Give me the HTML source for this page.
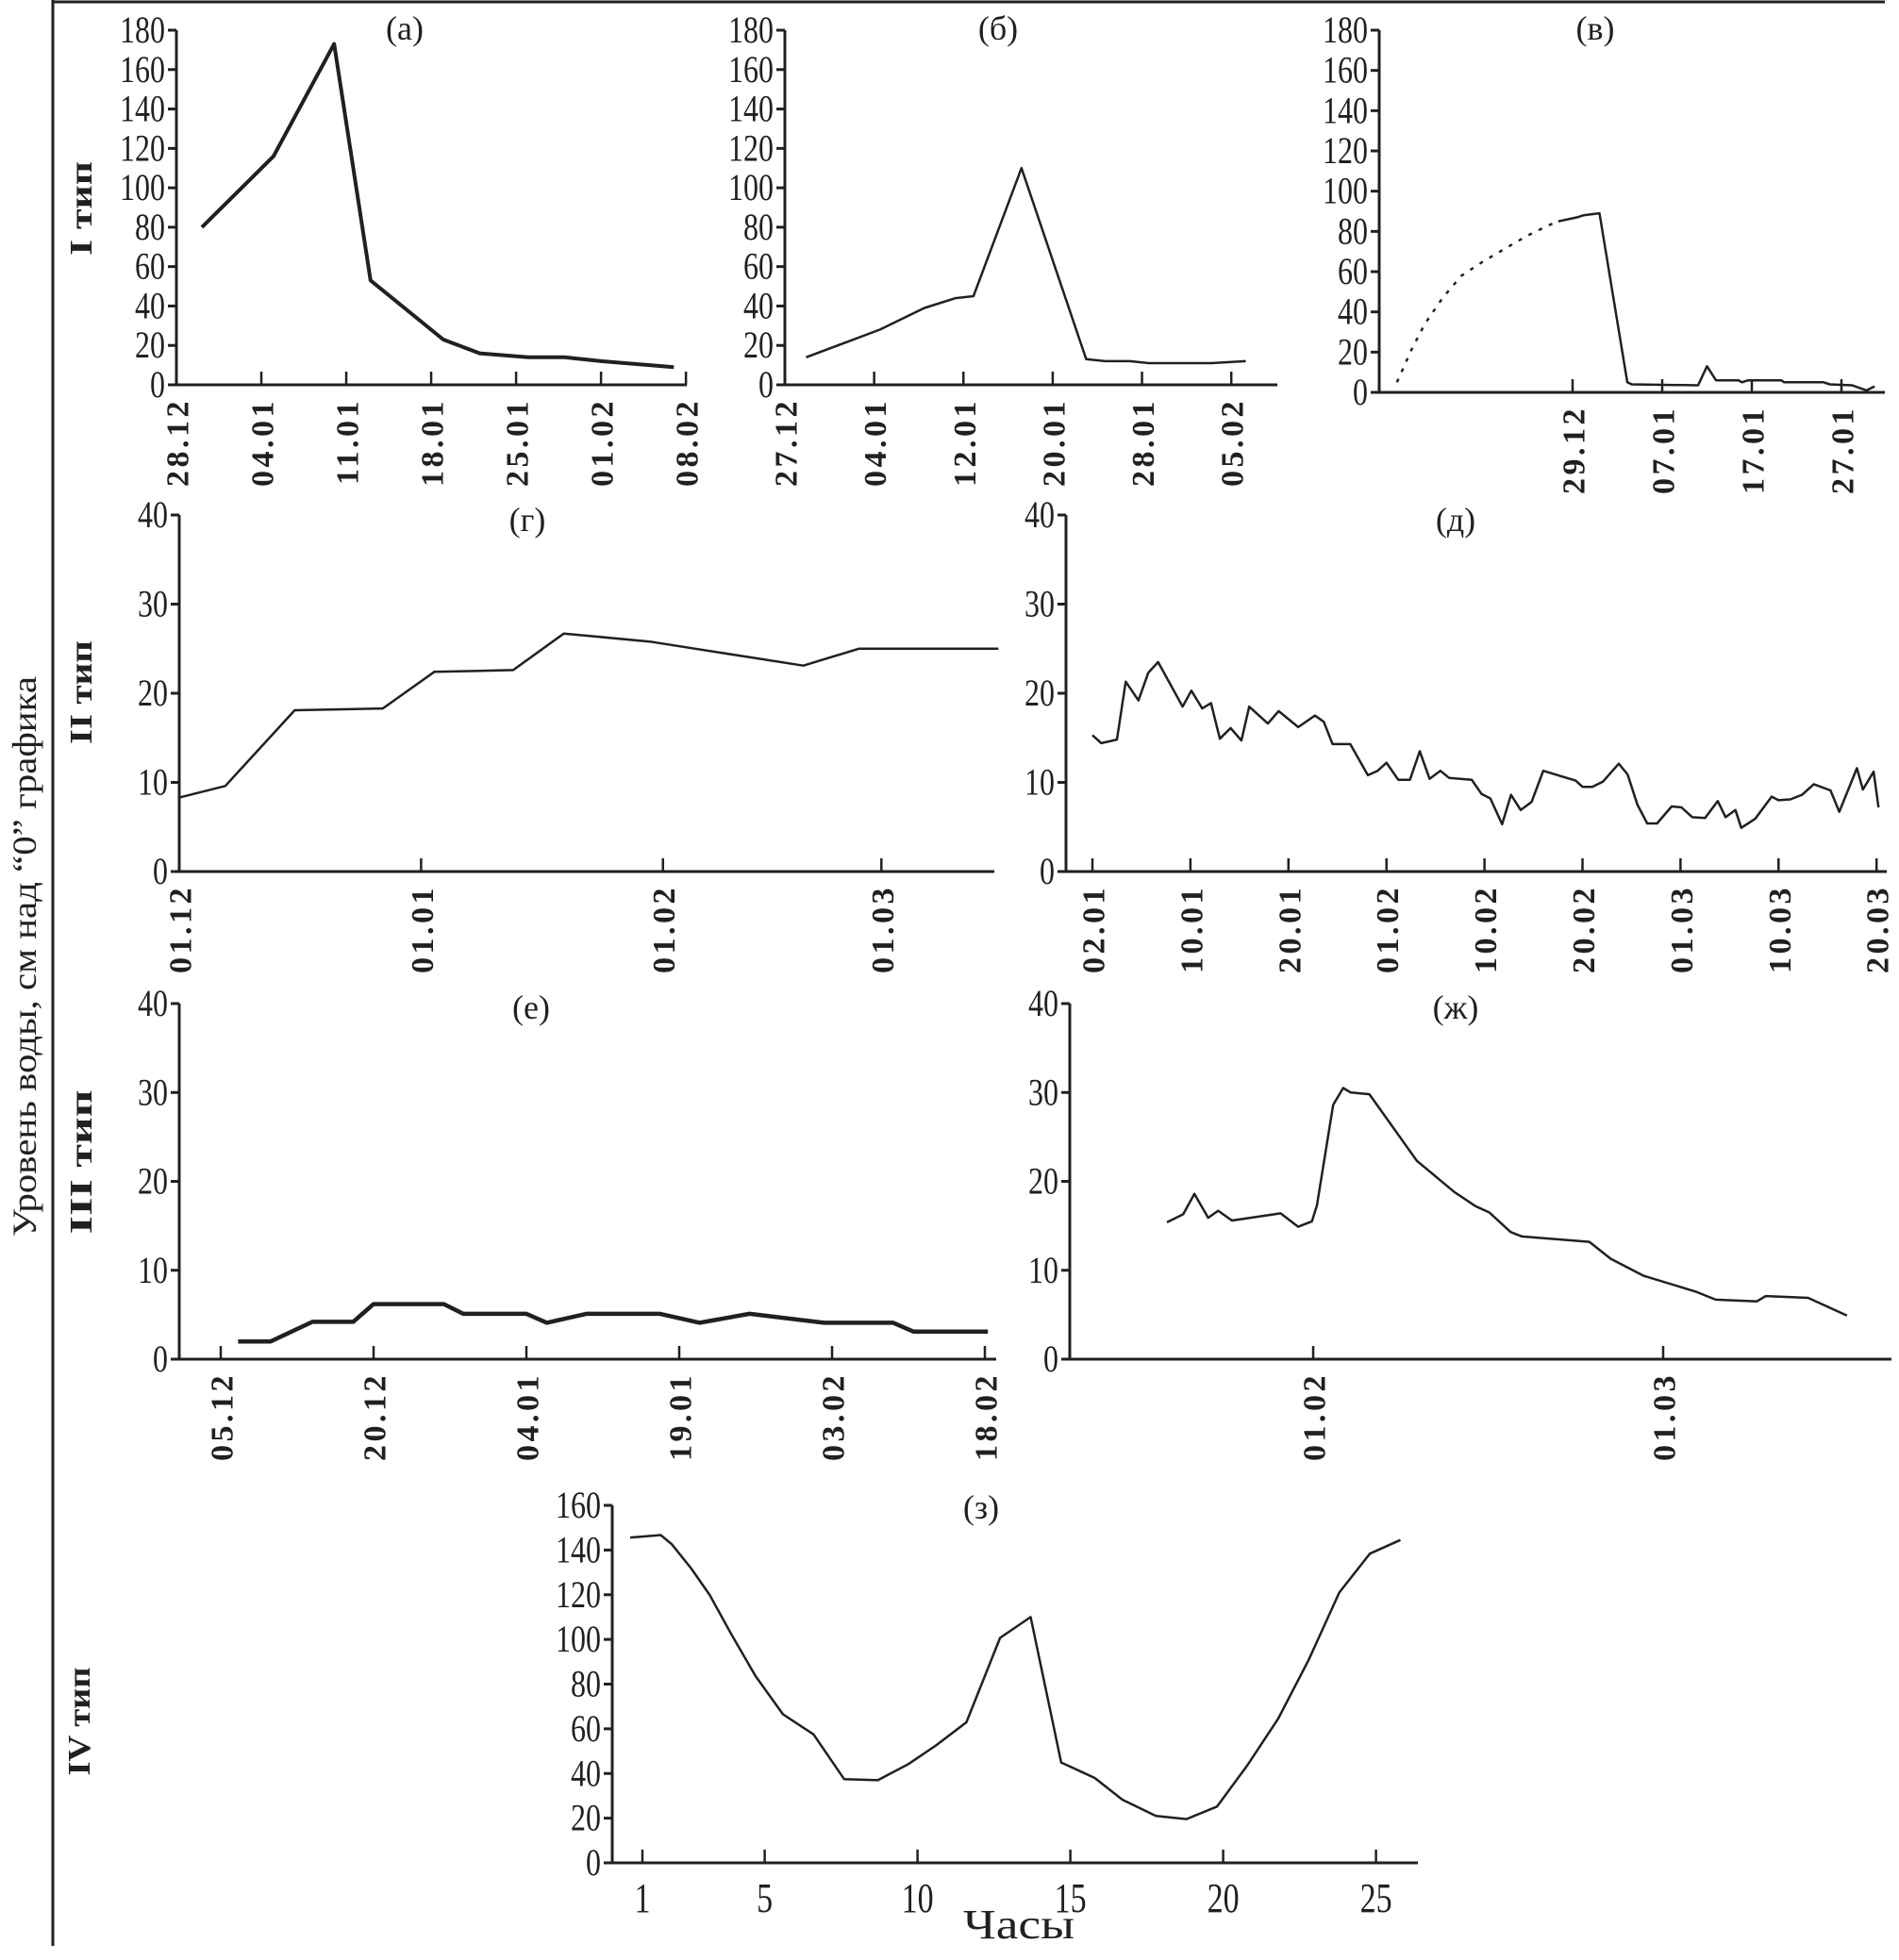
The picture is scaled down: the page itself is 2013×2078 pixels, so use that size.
<!DOCTYPE html>
<html><head><meta charset="utf-8"><style>
html,body{margin:0;padding:0;background:#fff;}
svg{display:block;}
text{font-family:"Liberation Serif",serif;fill:#231f20;}
</style></head><body>
<svg id="fig" width="2013" height="2078" viewBox="0 0 2013 2078" xmlns="http://www.w3.org/2000/svg">
<line x1="56" y1="2" x2="1998" y2="2" stroke="#231f20" stroke-width="3"/>
<line x1="56" y1="0" x2="56" y2="2063" stroke="#231f20" stroke-width="3"/>
<text transform="translate(38,1014) rotate(-90)" text-anchor="middle" font-size="36" textLength="594" lengthAdjust="spacingAndGlyphs">Уровень воды, см над “0” графика</text>
<text transform="translate(97,221) rotate(-90)" text-anchor="middle" font-size="34" font-weight="bold" textLength="100" lengthAdjust="spacingAndGlyphs">I тип</text>
<text transform="translate(97,734) rotate(-90)" text-anchor="middle" font-size="34" font-weight="bold" textLength="110" lengthAdjust="spacingAndGlyphs">II тип</text>
<text transform="translate(97,1232) rotate(-90)" text-anchor="middle" font-size="34" font-weight="bold" textLength="153" lengthAdjust="spacingAndGlyphs">III тип</text>
<text transform="translate(95,1825) rotate(-90)" text-anchor="middle" font-size="34" font-weight="bold" textLength="115" lengthAdjust="spacingAndGlyphs">IV тип</text>
<g id="plots"></g>
</svg>
<script>
// ---- data ----
const aDays = [2.1, 8, 13, 16, 22, 25, 29, 32, 35, 41];
const aLevels = [80, 116, 173, 53, 23, 16, 14, 14, 12, 9];
const aTickLabels = ["28.12","04.01","11.01","18.01","25.01","01.02","08.02"];
const aTickPos = [0,7,14,21,28,35,42];

const bDays = [1.9, 8.5, 12.5, 15.3, 16.9, 21.2, 27.0, 28.7, 30.9, 32.6, 38.2, 41.3];
const bLevels = [14, 28, 39, 44, 45, 110, 13, 12, 12, 11, 11, 12];
const bTickLabels = ["27.12","04.01","12.01","20.01","28.01","05.02"];
const bTickPos = [0,8,16,24,32,40];

const vDotDays = [-19.6, -18, -16.5, -14.5, -12.4, -10, -7.7, -5, -2.2, -1.6];
const vDotLevels = [5, 21, 34, 47, 58, 65, 71, 78, 84, 85];
const vDays = [-1.6, 0.5, 1.2, 3.0, 6.1, 6.6, 14, 15, 16, 18.5, 18.9, 19.6, 23.3, 23.6, 28, 28.7, 31.2, 32.8, 33.7];
const vLevels = [85, 87, 88, 89, 5, 4, 3.5, 13, 6, 6, 5, 6, 6, 5, 5, 4, 3.5, 1, 3];
const vTickLabels = ["29.12","07.01","17.01","27.01"];
const vTickPos = [0,10,20,30];

const gDays = [0, 5.9, 14.8, 26.1, 32.7, 42.8, 49.3, 60.3, 80, 87.1, 105];
const gLevels = [8.3, 9.6, 18.1, 18.3, 22.4, 22.6, 26.7, 25.8, 23.1, 25.0, 25.0];
const gTickLabels = ["01.12","01.01","01.02","01.03"];
const gTickPos = [0,31,62,90];

const dPos = [0,.09,.25,.34,.47,.57,.67,.92,1.01,1.12,1.21,1.3,1.41,1.52,1.6,1.79,1.9,2.1,2.27,2.36,2.45,2.63,2.81,2.91,3.0,3.12,3.24,3.34,3.44,3.55,3.64,3.87,3.97,4.06,4.18,4.27,4.37,4.48,4.6,4.93,5.0,5.1,5.21,5.37,5.46,5.56,5.66,5.76,5.91,6.01,6.12,6.25,6.38,6.46,6.56,6.62,6.76,6.93,7.0,7.12,7.24,7.36,7.53,7.62,7.8,7.86,7.97,8.02];
const dLevels = [15.3,14.4,14.8,21.3,19.2,22.3,23.5,18.5,20.3,18.3,18.9,14.9,16.1,14.7,18.5,16.6,18.0,16.2,17.5,16.8,14.3,14.3,10.8,11.3,12.2,10.3,10.3,13.5,10.4,11.3,10.5,10.3,8.7,8.2,5.3,8.6,6.9,7.8,11.3,10.2,9.5,9.5,10.1,12.1,10.9,7.5,5.4,5.4,7.3,7.2,6.1,6.0,7.9,6.1,6.9,4.9,5.9,8.4,8.0,8.1,8.6,9.8,9.1,6.7,11.6,9.2,11.2,7.2];
const dTickLabels = ["02.01","10.01","20.01","01.02","10.02","20.02","01.03","10.03","20.03"];
const dTickPos = [0,1,2,3,4,5,6,7,8];

const eDays = [1.7, 4.9, 9.0, 13.0, 15, 21.9, 23.8, 30, 32, 35.9, 43.1, 47, 51.9, 59.2, 66, 68, 75.3];
const eLevels = [2, 2, 4.2, 4.2, 6.2, 6.2, 5.1, 5.1, 4.1, 5.1, 5.1, 4.1, 5.1, 4.1, 4.1, 3.1, 3.1];
const eTickLabels = ["05.12","20.12","04.01","19.01","03.02","18.02"];
const eTickPos = [0,15,30,45,60,75];

const zhDays = [-11.7,-10.4,-9.5,-8.4,-7.6,-6.5,-2.6,-1.2,-0.1,0.3,1.6,2.4,3.0,4.5,8.3,11.3,13.0,14.1,15.8,16.7,22.1,23.8,26.4,30.6,32.2,35.5,36.2,39.6,42.7];
const zhLevels = [15.4,16.3,18.6,15.9,16.7,15.6,16.4,14.9,15.5,17.3,28.6,30.5,30.0,29.8,22.3,18.8,17.2,16.5,14.3,13.8,13.2,11.3,9.4,7.6,6.7,6.5,7.1,6.9,4.9];
const zhTickLabels = ["01.02","01.03"];
const zhTickPos = [0,28];

const zHours = [0.6,1.6,1.96,2.6,3.2,3.9,4.7,5.6,6.6,7.6,8.7,9.7,10.6,11.6,12.7,13.7,14.7,15.8,16.7,17.8,18.8,19.8,20.8,21.8,22.8,23.8,24.8,25.8];
const zLevels = [145.6,146.7,142.6,131.7,119.9,102.5,83.6,66.5,57.5,37.5,37,44.2,52.5,62.9,100.7,110,44.9,38,28.3,21,19.6,25.2,43.8,64.5,90.9,121,138.4,144.5];
const zTickLabels = ["1","5","10","15","20","25"];
const zTickPos = [1,5,10,15,20,25];

// ---- drawing ----
const NS = "http://www.w3.org/2000/svg";
const root = document.getElementById("plots");
function mk(tag, attrs, parent){
  const e = document.createElementNS(NS, tag);
  for (const k in attrs) e.setAttribute(k, attrs[k]);
  (parent||root).appendChild(e);
  return e;
}
function panel(p){
  const g = mk("g", {});
  
  
  const X = v => p.xOrigin + (v - p.xRef) * p.xScale;
  const Y = v => p.y0 - v / p.ymax * (p.y0 - p.y1);
  const ax = mk("path", {d:`M${p.ax},${p.y1} V${p.y0} H${p.axEnd}`, fill:"none", stroke:"#231f20", "stroke-width":3}, g);
  
  
  for (let v = 0; v <= p.ymax; v += p.ystep){
    const y = Y(v);
    const t = mk("line", {x1:p.ax-9, y1:y, x2:p.ax, y2:y, stroke:"#231f20", "stroke-width":3}, g);
    
    
    const s = String(v);
    const l = mk("text", {x:p.ax-12, y:y+13, "text-anchor":"end", "font-size":40, textLength:s.length*16, lengthAdjust:"spacingAndGlyphs"}, g);
    
    
    l.textContent = s;
  }
  p.tickPos.forEach((tv, i) => {
    const x = X(tv);
    if (Math.abs(x - p.ax) > 4){
      const t = mk("line", {x1:x, y1:p.y0-14, x2:x, y2:p.y0, stroke:"#231f20", "stroke-width":2.5}, g);
      
      
    }
    let l;
    if (p.hours){
      const s = p.tickLabels[i];
      l = mk("text", {x:x, y:p.y0+52, "text-anchor":"middle", "font-size":44, textLength:s.length*17, lengthAdjust:"spacingAndGlyphs"}, g);
    } else {
      l = mk("text", {transform:`translate(${x+2},${p.y0+14}) rotate(-90)`, "text-anchor":"end", "dominant-baseline":"central", "font-size":34, "letter-spacing":"3.5", "font-weight":"bold"}, g);
    }
    
    
    l.textContent = p.tickLabels[i];
  });
  p.series.forEach(s => {
    const d = s.xs.map((v,i) => (i?"L":"M") + X(v).toFixed(1) + "," + Y(s.ys[i]).toFixed(1)).join(" ");
    const pl = mk("path", {d:d, fill:"none", stroke:"#231f20", "stroke-width":s.w, "stroke-linejoin":"round", "stroke-dasharray":s.dash||"none"}, g);
    
    
  });
  const tl = mk("text", {x:p.titleX, y:p.titleY+12, "text-anchor":"middle", "font-size":36}, g);
  
  
  tl.textContent = p.title;
}
panel({id:"a", title:"(а)", titleX:429, titleY:30, ax:187, axEnd:728, y0:408, y1:32, ymax:180, ystep:20, xOrigin:187, xRef:0, xScale:12.86, tickPos:aTickPos, tickLabels:aTickLabels, series:[{xs:aDays, ys:aLevels, w:4, name:"level-line-a"}]});
panel({id:"b", title:"(б)", titleX:1058, titleY:30, ax:832, axEnd:1354, y0:408, y1:32, ymax:180, ystep:20, xOrigin:832, xRef:0, xScale:11.83, tickPos:bTickPos, tickLabels:bTickLabels, series:[{xs:bDays, ys:bLevels, w:2.5, name:"level-line-b"}]});
panel({id:"v", title:"(в)", titleX:1691, titleY:30, ax:1462, axEnd:1998, y0:416, y1:32, ymax:180, ystep:20, xOrigin:1667, xRef:0, xScale:9.5, tickPos:vTickPos, tickLabels:vTickLabels, series:[{xs:vDotDays, ys:vDotLevels, w:2.5, dash:"4 8", name:"level-line-v-estimated"},{xs:vDays, ys:vLevels, w:2.5, name:"level-line-v"}]});
panel({id:"g", title:"(г)", titleX:559, titleY:551, ax:190, axEnd:1054, y0:924, y1:546, ymax:40, ystep:10, xOrigin:190, xRef:0, xScale:8.27, tickPos:gTickPos, tickLabels:gTickLabels, series:[{xs:gDays, ys:gLevels, w:2.5, name:"level-line-g"}]});
panel({id:"d", title:"(д)", titleX:1543, titleY:551, ax:1130, axEnd:2000, y0:924, y1:546, ymax:40, ystep:10, xOrigin:1158, xRef:0, xScale:103.9, tickPos:dTickPos, tickLabels:dTickLabels, series:[{xs:dPos, ys:dLevels, w:2.5, name:"level-line-d"}]});
panel({id:"e", title:"(е)", titleX:563, titleY:1068, ax:190, axEnd:1056, y0:1441, y1:1064, ymax:40, ystep:10, xOrigin:234, xRef:0, xScale:10.8, tickPos:eTickPos, tickLabels:eTickLabels, series:[{xs:eDays, ys:eLevels, w:4.5, name:"level-line-e"}]});
panel({id:"zh", title:"(ж)", titleX:1543, titleY:1068, ax:1134, axEnd:2005, y0:1441, y1:1064, ymax:40, ystep:10, xOrigin:1392, xRef:0, xScale:13.25, tickPos:zhTickPos, tickLabels:zhTickLabels, series:[{xs:zhDays, ys:zhLevels, w:2.5, name:"level-line-zh"}]});
panel({id:"z", title:"(з)", titleX:1040, titleY:1598, ax:649, axEnd:1503, y0:1975, y1:1596, ymax:160, ystep:20, xOrigin:681, xRef:1, xScale:32.4, hours:true, tickPos:zTickPos, tickLabels:zTickLabels, series:[{xs:zHours, ys:zLevels, w:2.5, name:"level-line-z"}]});
const xt = mk("text", {x:1080, y:2055, "text-anchor":"middle", "font-size":44, textLength:"118", lengthAdjust:"spacingAndGlyphs"});


xt.textContent = "Часы";
</script>
</body></html>
